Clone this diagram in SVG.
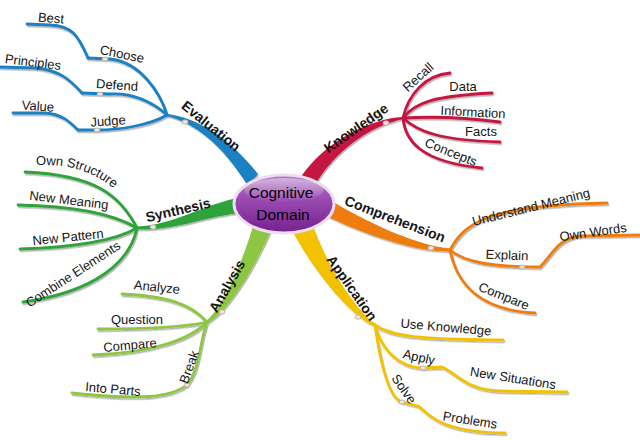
<svg xmlns="http://www.w3.org/2000/svg" width="640" height="440" viewBox="0 0 640 440">
<defs>
<style>
text{font-family:"Comic Sans MS","Liberation Sans","DejaVu Sans",sans-serif;fill:#151515;font-size:13px;text-anchor:middle}
.m{font-size:14px;font-weight:bold}
.ln{fill:none;stroke-width:2.8;stroke-linecap:round;stroke-linejoin:round}
.bl{stroke:#1A80C4}.blf{fill:#1A80C4}
.rd{stroke:#C41540}.rdf{fill:#C41540}
.gr{stroke:#2FA33A}.grf{fill:#2FA33A}
.lm{stroke:#8DC63F}.lmf{fill:#8DC63F}
.yl{stroke:#F2C200}.ylf{fill:#F2C200}
.or{stroke:#EE7D10}.orf{fill:#EE7D10}
.bead{fill:#F5E6CF;stroke:#A8A8A8;stroke-width:0.8}
</style>
<filter id="sh" x="-10%" y="-10%" width="120%" height="120%">
<feDropShadow dx="1" dy="1.6" stdDeviation="0.7" flood-color="#000" flood-opacity="0.3"/>
</filter>
<linearGradient id="pg" x1="0" y1="0" x2="0" y2="1">
<stop offset="0" stop-color="#B27AC6"/>
<stop offset="0.45" stop-color="#9848B0"/>
<stop offset="1" stop-color="#74228C"/>
</linearGradient>
<linearGradient id="hl" x1="0" y1="0" x2="0" y2="1">
<stop offset="0" stop-color="#fff" stop-opacity="0.45"/>
<stop offset="1" stop-color="#fff" stop-opacity="0"/>
</linearGradient>
<path id="osp" d="M36,165 C75,164 100,172 132,205"/>
</defs>
<rect width="640" height="440" fill="#fff"/>

<g id="connectors" filter="url(#sh)">
<path class="blf" d="M168,114 C196.5,118 228,136 258,174 L248,186 C222,144 193.5,122 166,116 Z"/>
<path class="rdf" d="M402,117 C371,119 327,139 300,178 L312,190 C334,150 372,125 404,119 Z"/>
<path class="grf" d="M136.7,226.5 C174.4,225 203.8,204.1 240.4,197.2 L243.6,212.8 C206.2,215.9 175.6,231 137.3,229.5 Z"/>
<path class="lmf" d="M205.7,321.25 C222.4,308.5 242.3,264.8 256,216 L273,226 C253.7,271.3 227.6,311.5 208.3,322.75 Z"/>
<path class="ylf" d="M376.2,324.1 C357.4,313.2 325.6,265.8 309,215 L291,228 C314.4,274.2 352.6,316.8 373.8,325.9 Z"/>
<path class="orf" d="M450.6,248.6 C419.1,246.2 370.2,224.4 329,199.6 L323,214.4 C365.8,235.6 416.9,251.8 449.4,251.4 Z"/>

<path class="ln bl" d="M167,115 C160,92 140,62 110,59 L88,58"/>
<path class="ln bl" d="M88,58 C78,35 72,26 50,25 L27,24"/>
<path class="ln bl" d="M167,115 C150,100 130,93 110,94 L82,93"/>
<path class="ln bl" d="M82,93 C70,80 60,70 35,68 L0,67"/>
<path class="ln bl" d="M167,115 C150,125 120,130 97,130 L78,130"/>
<path class="ln bl" d="M78,130 C70,122 62,114 45,113 L13,113"/>
<path class="ln rd" d="M403,118 C408,95 425,75 450,73"/>
<path class="ln rd" d="M403,118 C415,102 435,96 492,93"/>
<path class="ln rd" d="M403,118 C440,116 470,118 500,122"/>
<path class="ln rd" d="M403,118 C418,132 440,140 500,142"/>
<path class="ln rd" d="M403,118 C405,140 420,162 482,168"/>
<path class="ln gr" d="M137,228 C120,195 95,175 25,172"/>
<path class="ln gr" d="M137,228 C115,215 80,206 18,205"/>
<path class="ln gr" d="M137,228 C120,238 85,247 20,249"/>
<path class="ln gr" d="M137,228 C130,262 95,292 23,302"/>
<path class="ln lm" d="M207,322 C190,303 165,296 122,294"/>
<path class="ln lm" d="M207,322 C180,328 140,329 98,329"/>
<path class="ln lm" d="M207,322 C190,340 150,353 93,355"/>
<path class="ln lm" d="M207,322 C200,340 200,370 187,385"/>
<path class="ln lm" d="M187,385 C170,398 140,400 72,393"/>
<path class="ln yl" d="M375,325 C392,337 420,339 503,340"/>
<path class="ln yl" d="M375,325 C380,345 395,367 423,368 L442,367 C455,372 465,390 500,391 L567,392"/>
<path class="ln yl" d="M375,325 C380,360 388,398 402,402 L418,406 C428,412 435,432 505,433"/>
<path class="ln or" d="M450,250 C465,222 490,205 607,203"/>
<path class="ln or" d="M450,250 C465,262 490,267 540,267 C552,255 558,238 580,236 L640,235"/>
<path class="ln or" d="M450,250 C457,285 480,310 535,313"/>
</g>

<g id="beads">
<ellipse class="bead" cx="185" cy="122" rx="3" ry="2.2"/>
<ellipse class="bead" cx="105" cy="59" rx="3" ry="2"/>
<ellipse class="bead" cx="100" cy="94" rx="3" ry="2"/>
<ellipse class="bead" cx="97" cy="130" rx="3" ry="2"/>
<ellipse class="bead" cx="386" cy="123" rx="3" ry="2.2"/>
<ellipse class="bead" cx="153" cy="227" rx="3" ry="2.2"/>
<ellipse class="bead" cx="222" cy="312" rx="3" ry="2.2"/>
<ellipse class="bead" cx="187" cy="385" rx="3" ry="2"/>
<ellipse class="bead" cx="358" cy="317" rx="3" ry="2.2"/>
<ellipse class="bead" cx="423" cy="368" rx="3" ry="2"/>
<ellipse class="bead" cx="402" cy="402" rx="3" ry="2"/>
<ellipse class="bead" cx="431" cy="248" rx="3" ry="2.2"/>
<ellipse class="bead" cx="522" cy="267" rx="3" ry="2"/>
</g>

<g id="center">
<ellipse cx="284" cy="204" rx="50" ry="29" fill="url(#pg)" stroke="#EEDDF0" stroke-width="3"/>
<ellipse cx="284" cy="190" rx="40" ry="12" fill="url(#hl)"/>
<text x="281" y="198" fill="#000" style="font-size:15.5px;fill:#000">Cognitive</text>
<text x="283" y="220" fill="#000" style="font-size:15.5px;fill:#000">Domain</text>
</g>

<g id="evaluation"><text class="m" transform="translate(211,126) rotate(39)" dy="0.35em">Evaluation</text></g>
<g id="best"><text transform="translate(51,18) rotate(5)" dy="0.35em">Best</text></g>
<g id="choose"><text transform="translate(122,54) rotate(12)" dy="0.35em">Choose</text></g>
<g id="principles"><text transform="translate(33,62) rotate(7)" dy="0.35em">Principles</text></g>
<g id="defend"><text transform="translate(117,85) rotate(4)" dy="0.35em">Defend</text></g>
<g id="value"><text transform="translate(38,106) rotate(4)" dy="0.35em">Value</text></g>
<g id="judge"><text transform="translate(108,121) rotate(-4)" dy="0.35em">Judge</text></g>

<g id="knowledge"><text class="m" transform="translate(356,128) rotate(-35)" dy="0.35em">Knowledge</text></g>
<g id="recall"><text transform="translate(418,77) rotate(-42)" dy="0.35em">Recall</text></g>
<g id="data"><text transform="translate(463,86)" dy="0.35em">Data</text></g>
<g id="information"><text transform="translate(473,112) rotate(3)" dy="0.35em">Information</text></g>
<g id="facts"><text transform="translate(481,131)" dy="0.35em">Facts</text></g>
<g id="concepts"><text transform="translate(451,152) rotate(22)" dy="0.35em">Concepts</text></g>

<g id="synthesis"><text class="m" transform="translate(178,210) rotate(-13)" dy="0.35em">Synthesis</text></g>
<g id="own-structure"><text style="text-anchor:start"><textPath href="#osp">Own Structure</textPath></text></g>
<g id="new-meaning"><text transform="translate(69,200) rotate(7)" dy="0.35em">New Meaning</text></g>
<g id="new-pattern"><text transform="translate(68,237) rotate(-6)" dy="0.35em">New Pattern</text></g>
<g id="combine-elements"><text transform="translate(73,274) rotate(-33)" dy="0.35em">Combine Elements</text></g>

<g id="analysis"><text class="m" transform="translate(227,286) rotate(-60)" dy="0.35em">Analysis</text></g>
<g id="analyze"><text transform="translate(157,287) rotate(6)" dy="0.35em">Analyze</text></g>
<g id="question"><text transform="translate(137,319)" dy="0.35em">Question</text></g>
<g id="compare-a"><text transform="translate(130,345) rotate(-5)" dy="0.35em">Compare</text></g>
<g id="break"><text transform="translate(189,367) rotate(-70)" dy="0.35em">Break</text></g>
<g id="into-parts"><text transform="translate(113,389) rotate(5)" dy="0.35em">Into Parts</text></g>

<g id="application"><text class="m" transform="translate(352,288) rotate(55)" dy="0.35em">Application</text></g>
<g id="use-knowledge"><text transform="translate(446,327) rotate(5)" dy="0.35em">Use Knowledge</text></g>
<g id="apply"><text transform="translate(419,357) rotate(12)" dy="0.35em">Apply</text></g>
<g id="new-situations"><text transform="translate(513,378) rotate(9)" dy="0.35em">New Situations</text></g>
<g id="solve"><text transform="translate(404,389) rotate(55)" dy="0.35em">Solve</text></g>
<g id="problems"><text transform="translate(470,420) rotate(9)" dy="0.35em">Problems</text></g>

<g id="comprehension"><text class="m" transform="translate(395,219) rotate(21)" dy="0.35em">Comprehension</text></g>
<g id="understand-meaning"><text transform="translate(531,207) rotate(-14)" dy="0.35em">Understand Meaning</text></g>
<g id="explain"><text transform="translate(507,255) rotate(2)" dy="0.35em">Explain</text></g>
<g id="own-words"><text transform="translate(593,232) rotate(-8)" dy="0.35em">Own Words</text></g>
<g id="compare-c"><text transform="translate(504,296) rotate(22)" dy="0.35em">Compare</text></g>
</svg>
